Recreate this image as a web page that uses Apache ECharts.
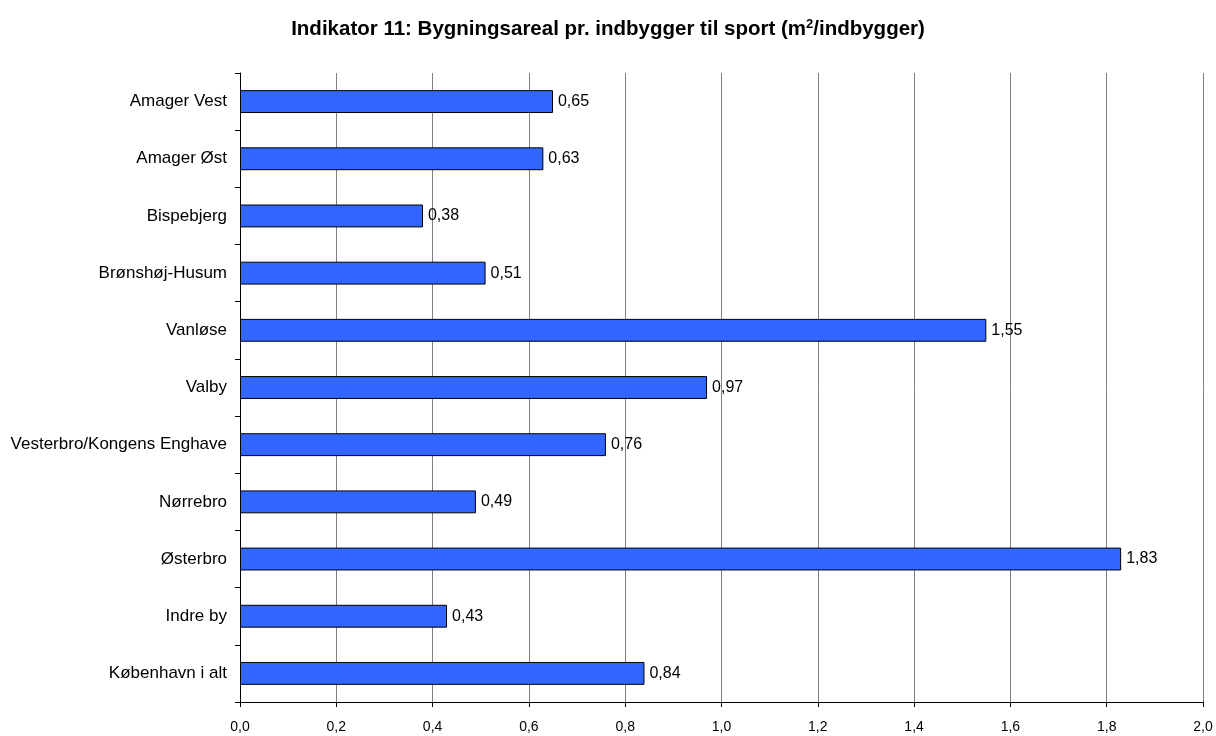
<!DOCTYPE html>
<html>
<head>
<meta charset="utf-8">
<script src="https://cdn.jsdelivr.net/npm/echarts@6/dist/echarts.min.js"></script>
<style>
    html, body { margin: 0; padding: 0; background: #fff; }
    #chart { width: 1216px; height: 736px; }
</style>
</head>
<body>
<div id="chart"></div>
<script>
var bydele = ['Amager Vest', 'Amager Øst', 'Bispebjerg', 'Brønshøj-Husum', 'Vanløse', 'Valby',
    'Vesterbro/Kongens Enghave', 'Nørrebro', 'Østerbro', 'Indre by', 'København i alt'];
var arealPrIndbygger = [0.65, 0.63, 0.38, 0.51, 1.55, 0.97, 0.76, 0.49, 1.83, 0.43, 0.84];
var xMin = 0;
var xMax = 2.0;
var xStep = 0.2;

window.onload = function () {
    var chart = echarts.init(document.getElementById('chart'));
    var option = {
        animation: false,
        title: {
            text: 'Indikator 11: Bygningsareal pr. indbygger til sport (m{sup|2}/indbygger)',
            left: 'center',
            top: 13,
            textStyle: {
                fontFamily: 'Liberation Sans, Arial',
                fontSize: 20.5,
                fontWeight: 'bold',
                color: '#000',
                rich: {
                    sup: {
                        fontFamily: 'Liberation Sans, Arial',
                        fontSize: 13,
                        fontWeight: 'bold',
                        verticalAlign: 'top',
                        padding: [0, 0, 10, 0]
                    }
                }
            }
        },
        grid: {
            left: 240,
            right: 13,
            top: 73,
            bottom: 34,
            show: true,
            borderColor: '#808080',
            borderWidth: 0
        },
        xAxis: {
            type: 'value',
            min: xMin,
            max: xMax,
            interval: xStep,
            axisLine: { show: true, lineStyle: { color: '#000', width: 1 } },
            axisTick: { show: true, length: 5, lineStyle: { color: '#000' } },
            axisLabel: {
                color: '#000',
                fontFamily: 'Liberation Sans, Arial',
                fontSize: 14,
                margin: 18,
                formatter: function (v) { return v.toFixed(1).replace('.', ','); }
            },
            splitLine: { show: true, lineStyle: { color: '#808080', width: 1 } }
        },
        yAxis: {
            type: 'category',
            data: bydele,
            inverse: true,
            axisLine: { show: true, lineStyle: { color: '#000', width: 1 } },
            axisTick: { show: true, length: 5, lineStyle: { color: '#000' } },
            axisLabel: {
                color: '#000',
                fontFamily: 'Liberation Sans, Arial',
                fontSize: 17,
                margin: 13
            }
        },
        series: [
            {
                type: 'bar',
                data: arealPrIndbygger,
                barWidth: '40%',
                itemStyle: { color: '#3366FF', borderColor: '#000', borderWidth: 1 },
                label: {
                    show: true,
                    position: 'right',
                    distance: 5,
                    color: '#000',
                    fontFamily: 'Liberation Sans, Arial',
                    fontSize: 16,
                    formatter: function (p) { return p.value.toFixed(2).replace('.', ','); }
                }
            }
        ]
    };
    chart.setOption(option);
};
</script>
</body>
</html>
